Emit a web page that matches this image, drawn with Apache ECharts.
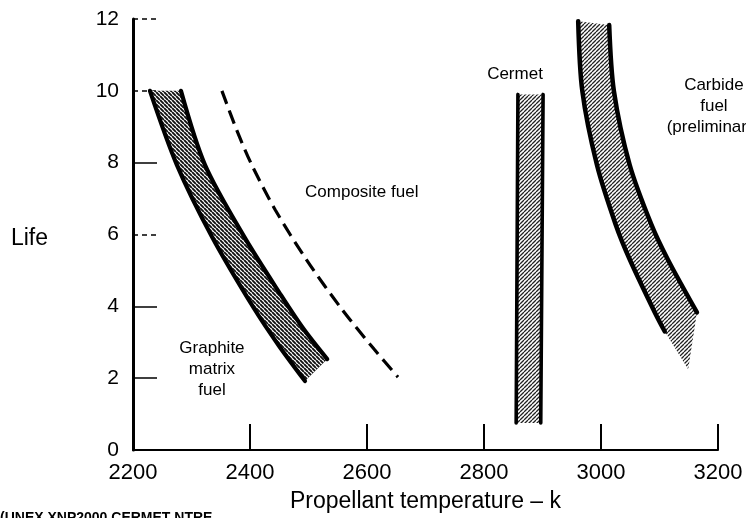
<!DOCTYPE html>
<html>
<head>
<meta charset="utf-8">
<script src="https://cdn.jsdelivr.net/npm/echarts@6/dist/echarts.min.js"></script>
<style>
  html, body { margin: 0; padding: 0; background: #fff; }
  #chart { width: 746px; height: 518px; }
</style>
</head>
<body>
<div id="chart"></div>
<script>
// Fuel element life versus propellant temperature for several nuclear fuel types.

const xRange = [2200, 3200];
const yRange = [0, 12];
const xTickValues = [2400, 2600, 2800, 3000, 3200];
const ySolidTicks = [2, 4, 8];
const yDashedTicks = [6, 10, 12];

// Graphite matrix fuel band, [temperature K, life]
const graphiteLow  = [[2229, 10], [2275, 7.94], [2335, 5.94], [2407, 3.94], [2450, 2.89], [2494, 1.92]];
const graphiteHigh = [[2282, 10], [2323, 7.94], [2390, 5.94], [2453, 4.31], [2492, 3.36], [2532, 2.53]];

// Composite fuel (dashed curve)
const composite = [[2352, 10], [2377, 8.92], [2403, 7.94], [2443, 6.69], [2496, 5.31], [2557, 3.92], [2612, 2.81], [2653, 2.03]];

// Cermet band
const cermetLow  = [[2858, 9.9], [2855, 0.75]];
const cermetHigh = [[2901, 9.9], [2897, 0.75]];

// Carbide fuel band (preliminary); the last low point is the tip of the hatched area
const carbideLow  = [[2961, 11.94], [2968, 10], [2993, 7.94], [3025, 6.28], [3049, 5.31], [3092, 3.83], [3109, 3.3], [3149, 2.25]];
const carbideHigh = [[3014, 11.83], [3022, 10], [3049, 7.94], [3086, 6.28], [3114, 5.31], [3164, 3.83]];

// Curve labels, placed in data coordinates
const labelTexts = ['Composite fuel', 'Graphite\nmatrix\nfuel', 'Cermet', 'Carbide\nfuel\n(preliminary)'];
const labelX = [2591, 2335, 2853, 3193];
const labelY = [7.17, 2.26, 10.45, 9.58];

const FONT = '"Liberation Sans", Arial, Helvetica, sans-serif';
const INK = '#000';

// Diagonal hatch tile used as a fill pattern
function hatch(size, dir, width, ink) {
  const c = document.createElement('canvas');
  c.width = c.height = size;
  const g = c.getContext('2d');
  g.fillStyle = '#fff';
  g.fillRect(0, 0, size, size);
  g.strokeStyle = ink;
  g.lineWidth = width;
  g.beginPath();
  for (const k of [-size, 0, size]) {
    if (dir === '/') { g.moveTo(k, size); g.lineTo(k + size, 0); }
    else { g.moveTo(k, 0); g.lineTo(k + size, size); }
  }
  g.stroke();
  return { image: c, repeat: 'repeat' };
}

const graphitePattern = hatch(4, '\\', 1.9, '#111');
const fineSlashPattern = hatch(4, '/', 1.3, '#222');

// A hatched band between two boundary curves with heavy edges
function band(name, low, high, pattern, edgeWidth, lowEdgeCount) {
  return {
    name: name,
    type: 'custom',
    coordinateSystem: 'cartesian2d',
    silent: true,
    clip: false,
    data: [low[0]],
    renderItem: function (params, api) {
      const lo = low.map(p => api.coord(p));
      const hi = high.map(p => api.coord(p));
      const poly = lo.concat(hi.slice().reverse());
      const loEdge = lo.slice(0, lowEdgeCount || lo.length);
      return {
        type: 'group',
        children: [
          { type: 'polygon', shape: { points: poly, smooth: 0 }, style: { fill: pattern, stroke: null } },
          { type: 'polyline', shape: { points: loEdge, smooth: 0.3 },
            style: { stroke: '#000', lineWidth: edgeWidth, fill: null, lineCap: 'round' } },
          { type: 'polyline', shape: { points: hi, smooth: 0.3 },
            style: { stroke: '#000', lineWidth: edgeWidth, fill: null, lineCap: 'round' } }
        ]
      };
    }
  };
}

const chart = echarts.init(document.getElementById('chart'), null, { renderer: 'canvas' });

const option = {
  animation: false,
  backgroundColor: '#fff',
  grid: { left: 133, right: 28, top: 19, bottom: 67 },
  xAxis: {
    type: 'value',
    min: xRange[0], max: xRange[1], interval: 200,
    name: 'Propellant temperature \u2013 k',
    nameLocation: 'middle',
    nameGap: 40,
    nameTextStyle: { fontFamily: FONT, fontSize: 23, color: INK },
    axisLine: { show: true, lineStyle: { color: '#000', width: 2 } },
    axisTick: { show: true, inside: true, length: 26, customValues: xTickValues,
                lineStyle: { color: '#000', width: 2 } },
    axisLabel: { fontFamily: FONT, fontSize: 22, color: INK, margin: 12,
                 formatter: v => String(v) },
    splitLine: { show: false }
  },
  yAxis: [
    {
      type: 'value',
      min: yRange[0], max: yRange[1], interval: 2,
      position: 'left',
      name: 'Life',
      nameLocation: 'middle',
      nameRotate: 0,
      nameGap: 85,
      nameTextStyle: { fontFamily: FONT, fontSize: 23, color: INK, verticalAlign: 'top', lineHeight: 8 },
      axisLine: { show: true, lineStyle: { color: '#000', width: 3 } },
      axisTick: { show: true, inside: true, length: 24, customValues: ySolidTicks,
                  lineStyle: { color: '#000', width: 1.5 } },
      axisLabel: { fontFamily: FONT, fontSize: 21, color: INK, margin: 14 },
      splitLine: { show: false }
    },
    {
      type: 'value',
      min: yRange[0], max: yRange[1], interval: 2,
      position: 'left',
      axisLine: { show: false },
      axisTick: { show: true, inside: true, length: 24, customValues: yDashedTicks,
                  lineStyle: { color: '#000', width: 1.5, type: [5, 4] } },
      axisLabel: { show: false },
      splitLine: { show: false }
    }
  ],
  series: [
    band('Graphite matrix fuel', graphiteLow, graphiteHigh, graphitePattern, 4.2),
    band('Cermet', cermetLow, cermetHigh, fineSlashPattern, 3.6),
    band('Carbide fuel', carbideLow, carbideHigh, fineSlashPattern, 4.5, carbideLow.length - 1),
    {
      name: 'Composite fuel',
      type: 'line',
      data: composite,
      smooth: 0.3,
      showSymbol: false,
      silent: true,
      lineStyle: { color: '#000', width: 3.2, type: [14, 7] }
    },
    {
      name: 'labels',
      type: 'custom',
      coordinateSystem: 'cartesian2d',
      silent: true,
      clip: false,
      data: labelTexts.map((t, i) => [labelX[i], labelY[i], i]),
      renderItem: function (params, api) {
        const p = api.coord([api.value(0), api.value(1)]);
        const i = api.value(2);
        return {
          type: 'text',
          x: p[0], y: p[1],
          style: {
            text: labelTexts[i],
            font: '17px ' + FONT,
            fill: INK,
            align: 'center',
            verticalAlign: 'middle',
            lineHeight: 21
          }
        };
      }
    }
  ],
  graphic: [
    {
      type: 'text',
      left: 0, top: 511,
      style: { text: '(UNEX XNP2000 CERMET NTRE', font: 'bold 14px ' + FONT, fill: INK }
    }
  ]
};

chart.setOption(option);
</script>
</body>
</html>
